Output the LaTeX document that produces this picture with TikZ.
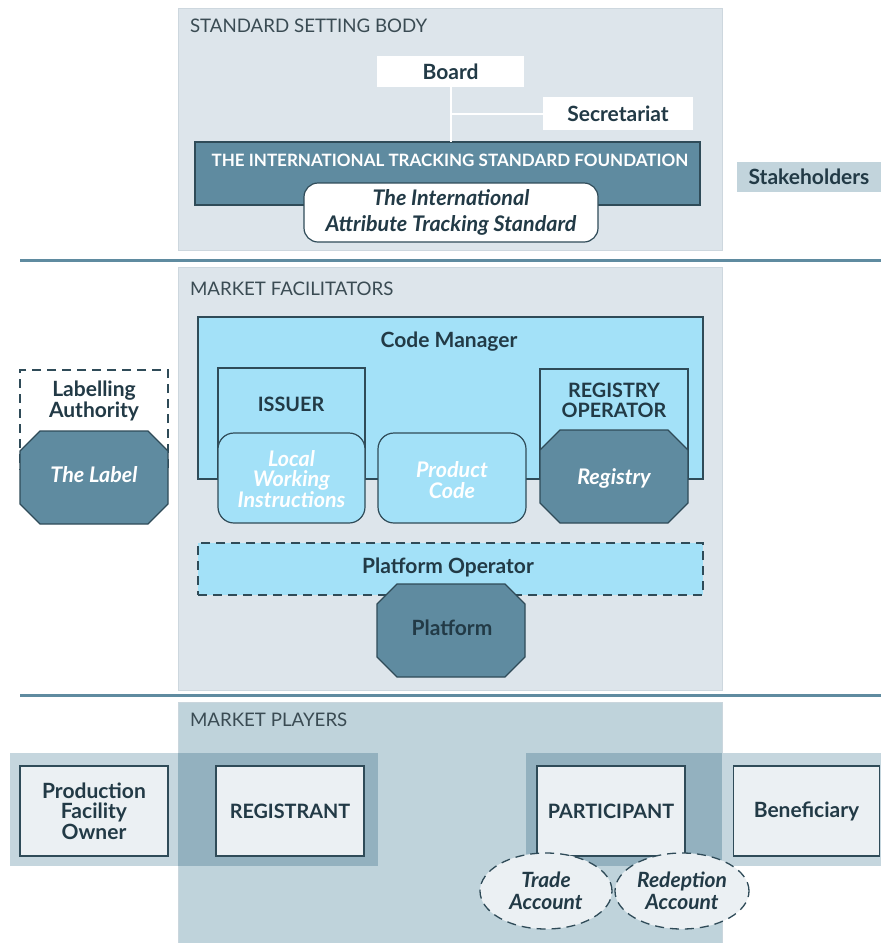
\documentclass[tikz,border=0pt]{standalone}
\usepackage{fontspec}
\setmainfont{Lato}
\usetikzlibrary{shapes.geometric}
\definecolor{panel}{HTML}{DDE5EB}
\definecolor{panelEdge}{HTML}{CDD7DE}
\definecolor{cyanfill}{HTML}{A3E1F8}
\definecolor{tealfill}{HTML}{5F8BA0}
\definecolor{navy}{HTML}{223A46}
\definecolor{edge}{HTML}{2F4B58}
\definecolor{sepc}{HTML}{5F8BA0}
\definecolor{playerbg}{HTML}{BFD3DB}
\definecolor{bandlight}{HTML}{C5D6DE}
\definecolor{banddark}{HTML}{93B1BF}
\definecolor{boxlight}{HTML}{EBF0F3}
\definecolor{stakec}{HTML}{C2D4DC}
\definecolor{headc}{HTML}{3A4B53}
\begin{document}
\begin{tikzpicture}[x=1pt,y=-1pt,
  every node/.style={inner sep=0pt, outer sep=0pt},
  panelbox/.style={fill=panel, draw=panelEdge, line width=0.8},
  head/.style={font=\fontsize{18.7}{20}\selectfont, text=headc, anchor=west},
  lbl/.style={font=\fontsize{21}{20.5}\selectfont\bfseries, text=navy, align=center},
  lblsm/.style={font=\fontsize{19.8}{20}\selectfont\bfseries, text=navy, align=center},
  wlbl/.style={font=\fontsize{21.5}{20.5}\selectfont\bfseries\itshape, text=white, align=center},
  whitebox/.style={fill=white, lbl},
  darkbox/.style={fill=tealfill, draw=edge, line width=1.2},
  stdbox/.style={fill=white, draw=edge, line width=1.2, rounded corners=14, font=\fontsize{21.5}{26}\selectfont\bfseries\itshape, text=navy, align=center},
  cyanbox/.style={fill=cyanfill, draw=edge, line width=1.1},
  cyanround/.style={fill=cyanfill, draw=edge, line width=1.2, rounded corners=16},
  dashbox/.style={draw=edge, line width=1.1, dash pattern=on 9pt off 6pt},
  octo/.style={fill=tealfill, draw=edge, line width=1.2},
  sepline/.style={draw=sepc, line width=3},
  conn/.style={draw=white, line width=2},
  playerbox/.style={fill=boxlight, draw=edge, line width=1.5, lbl},
  acct/.style={ellipse, fill=boxlight, draw=edge, line width=1.3, dash pattern=on 9pt off 6pt, font=\fontsize{21}{22}\selectfont\bfseries\itshape, text=navy, align=center},
]
\useasboundingbox (0,0) rectangle (881,943);

% ---------- STANDARD SETTING BODY ----------
\node[panelbox, minimum width=544, minimum height=242] (sbody) at (450,129) {};
\node[head] (sbodyt) at (190,26) {STANDARD SETTING BODY};
\node[whitebox, minimum width=147, minimum height=31] (board) at (450.5,71.5) {Board};
\node[whitebox, minimum width=150, minimum height=33] (secr) at (618,113.5) {Secretariat};
\node[darkbox, minimum width=505, minimum height=63] (found) at (447.5,173.5) {};
\draw[conn] (board.south) -- (board.south |- found.north);
\draw[conn] (board.south |- secr.west) -- (secr.west);
\node[font=\fontsize{17}{19}\selectfont\bfseries, text=white] (foundt) at (450,160) {THE INTERNATIONAL TRACKING STANDARD FOUNDATION};
\node[stdbox, minimum width=294, minimum height=59] (std) at (451,212.5) {The International\\Attribute Tracking Standard};
\node[fill=stakec, lbl, minimum width=144, minimum height=30] (stake) at (809,177) {Stakeholders};

\coordinate (s1a) at (20,260);
\coordinate (s1b) at (881,260);
\draw[sepline] (s1a) -- (s1b);

% ---------- MARKET FACILITATORS ----------
\node[panelbox, minimum width=544, minimum height=423] (mfac) at (450,478.5) {};
\node[head] (mfact) at (190,289) {MARKET FACILITATORS};
\node[cyanbox, minimum width=505, minimum height=162] (cm) at (450.5,398) {};
\node[lbl] (cmt) at (449,342) {Code Manager};
\node[cyanbox, minimum width=147, minimum height=110] (issuer) at (291.5,423) {};
\node[lblsm] (issuert) at (291,404) {ISSUER};
\node[cyanround, minimum width=147, minimum height=90] (lwi) at (291.5,478) {};
\node[wlbl] (lwit) at (291.5,479) {Local\\Working\\Instructions};
\node[cyanround, minimum width=148, minimum height=90] (pcode) at (452,478) {};
\node[wlbl] (pcodet) at (452,480) {Product\\Code};
\node[cyanbox, minimum width=148, minimum height=109] (regop) at (614,423.5) {};
\node[lblsm] (regopt) at (614,400) {REGISTRY\\OPERATOR};
\node[minimum width=148, minimum height=93] (registry) at (614,476.5) {};
\draw[octo] ([xshift=20]registry.north west) -- ([xshift=-20]registry.north east) -- ([yshift=-20]registry.north east) -- ([yshift=20]registry.south east) -- ([xshift=-20]registry.south east) -- ([xshift=20]registry.south west) -- ([yshift=20]registry.south west) -- ([yshift=-20]registry.north west) -- cycle;
\node[wlbl] (registryt) at (614,478) {Registry};

\node[dashbox, fill=cyanfill, minimum width=505, minimum height=52] (platop) at (450.5,569) {};
\node[lbl] (platopt) at (448,567) {Platform Operator};
\node[minimum width=148, minimum height=93] (platform) at (451,630.5) {};
\draw[octo] ([xshift=20]platform.north west) -- ([xshift=-20]platform.north east) -- ([yshift=-20]platform.north east) -- ([yshift=20]platform.south east) -- ([xshift=-20]platform.south east) -- ([xshift=20]platform.south west) -- ([yshift=20]platform.south west) -- ([yshift=-20]platform.north west) -- cycle;
\node[lbl] (platformt) at (452,628) {Platform};

\node[dashbox, fill=white, minimum width=148, minimum height=100] (labauth) at (94,420) {};
\node[lbl] (labautht) at (94,401) {Labelling\\Authority};
\node[minimum width=148, minimum height=93] (label) at (94,477.5) {};
\draw[octo] ([xshift=20]label.north west) -- ([xshift=-20]label.north east) -- ([yshift=-20]label.north east) -- ([yshift=20]label.south east) -- ([xshift=-20]label.south east) -- ([xshift=20]label.south west) -- ([yshift=20]label.south west) -- ([yshift=-20]label.north west) -- cycle;
\node[wlbl] (labelt) at (94,475) {The Label};

\coordinate (s2a) at (20,695);
\coordinate (s2b) at (881,695);
\draw[sepline] (s2a) -- (s2b);

% ---------- MARKET PLAYERS ----------
\node[fill=playerbg, draw=panelEdge!80!playerbg, line width=0.8, minimum width=544, minimum height=243] (mplay) at (450,823.5) {};
\node[head] (mplayt) at (190,720) {MARKET PLAYERS};
\node[fill=bandlight, minimum width=168, minimum height=113] (bandL1) at (94,809.5) {};
\node[fill=banddark, minimum width=200, minimum height=113] (bandL2) at (278,809.5) {};
\node[fill=banddark, minimum width=196, minimum height=113] (bandR1) at (624,809.5) {};
\node[fill=bandlight, minimum width=159, minimum height=113] (bandR2) at (801.5,809.5) {};
\node[playerbox, minimum width=148, minimum height=90] (pfo) at (94,811) {Production\\Facility\\Owner};
\node[playerbox, lblsm, minimum width=148, minimum height=90] (registrant) at (290,811) {REGISTRANT};
\node[playerbox, lblsm, minimum width=148, minimum height=90] (participant) at (611,811) {PARTICIPANT};
\node[playerbox, minimum width=146, minimum height=90] (beneficiary) at (806.5,811) {Beneficiary};
\node[acct, minimum width=132, minimum height=76] (trade) at (546,891) {Trade\\Account};
\node[acct, minimum width=134, minimum height=76] (redem) at (682,891) {Redeption\\Account};
\end{tikzpicture}
\end{document}
